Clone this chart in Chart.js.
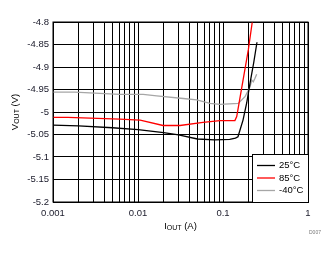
<!DOCTYPE html>
<html>
<head>
<meta charset="utf-8">
<script src="https://cdn.jsdelivr.net/npm/chart.js@4/dist/chart.umd.min.js"></script>
<style>
  html, body { margin: 0; padding: 0; background: #fff; }
  #wrap { width: 336px; height: 254px; }
</style>
</head>
<body>
<div id="wrap"><canvas id="chart" width="336" height="254"></canvas></div>
<script>
// series labels + colours
const seriesNames = ['25°C', '85°C', '-40°C'];
const seriesColors = ['#000000', '#ff0000', '#a6a6a6'];

// 25°C
const iout25 = [0.001, 0.002, 0.005, 0.01, 0.02, 0.03, 0.05, 0.08, 0.12, 0.14, 0.15, 0.172, 0.19, 0.208, 0.23, 0.251];
const vout25 = [-5.029, -5.031, -5.035, -5.039, -5.046, -5.051, -5.060, -5.062, -5.061, -5.058, -5.055, -5.018, -4.98, -4.936, -4.89, -4.845];

// 85°C
const iout85 = [0.001, 0.0015, 0.0061, 0.0106, 0.0197, 0.0312, 0.0582, 0.0922, 0.138, 0.145, 0.1985, 0.221, 0.235];
const vout85 = [-5.012, -5.012, -5.016, -5.018, -5.030, -5.030, -5.023, -5.019, -5.019, -5.010, -4.862, -4.80, -4.77];

// -40°C
const iout40 = [0.001, 0.0018, 0.0061, 0.0115, 0.0166, 0.0341, 0.049, 0.0704, 0.0922, 0.151, 0.1815, 0.208, 0.218, 0.227, 0.238, 0.249];
const vout40 = [-4.956, -4.956, -4.961, -4.961, -4.964, -4.970, -4.973, -4.981, -4.983, -4.981, -4.966, -4.944, -4.929, -4.933, -4.925, -4.916];

// axes
const xTickLabels = [0.001, 0.01, 0.1, 1];
const yMin = -5.2, yMax = -4.8, yStep = 0.05;

const FONT = '"Liberation Sans", Arial, sans-serif';

function pts(xs, ys) {
  return xs.map((x, i) => ({ x: x, y: ys[i] }));
}

const seriesData = [pts(iout25, vout25), pts(iout85, vout85), pts(iout40, vout40)];

// titles with subscripts, legend box, little code in the corner
const decorPlugin = {
  id: 'decor',
  afterDraw(chart) {
    const ctx = chart.ctx;
    const a = chart.chartArea;
    ctx.save();

    // legend
    const lw = 56, lh = 48;
    const lx = a.right - lw, ly = a.bottom - lh;
    ctx.fillStyle = '#fff';
    ctx.fillRect(lx, ly, lw, lh);
    ctx.strokeStyle = '#000';
    ctx.lineWidth = 1;
    ctx.strokeRect(lx + 0.5, ly + 0.5, lw, lh);
    ctx.font = '9.5px ' + FONT;
    ctx.textBaseline = 'middle';
    seriesNames.forEach((name, i) => {
      const yy = ly + 11.5 + i * 12.5;
      ctx.strokeStyle = seriesColors[i];
      ctx.lineWidth = 1.3;
      ctx.beginPath();
      ctx.moveTo(lx + 5, yy);
      ctx.lineTo(lx + 23, yy);
      ctx.stroke();
      ctx.fillStyle = '#000';
      ctx.fillText(name, lx + 27, yy);
    });

    // x title  I_OUT (A)
    const cx = (a.left + a.right) / 2;
    drawSubTitle(ctx, 'I', 'OUT', ' (A)', cx, 226);

    // y title  V_OUT (V)
    ctx.save();
    ctx.translate(15, (a.top + a.bottom) / 2);
    ctx.rotate(-Math.PI / 2);
    drawSubTitle(ctx, 'V', 'OUT', ' (V)', 0, 0);
    ctx.restore();

    ctx.fillStyle = '#777';
    ctx.font = '5px ' + FONT;
    ctx.textAlign = 'left';
    ctx.textBaseline = 'middle';
    ctx.fillText('D007', 309, 233);

    ctx.restore();
  }
};

function drawSubTitle(ctx, main, sub, rest, cx, cy) {
  const big = '9.5px ' + FONT, small = '7px ' + FONT;
  ctx.textBaseline = 'middle';
  ctx.textAlign = 'left';
  ctx.font = big; const w1 = ctx.measureText(main).width;
  const w3 = ctx.measureText(rest).width;
  ctx.font = small; const w2 = ctx.measureText(sub).width;
  let x = cx - (w1 + w2 + w3) / 2;
  ctx.fillStyle = '#000';
  ctx.font = big; ctx.fillText(main, x, cy); x += w1;
  ctx.font = small; ctx.fillText(sub, x, cy + 2.5); x += w2;
  ctx.font = big; ctx.fillText(rest, x, cy);
}

function isDecade(v) {
  const l = Math.log10(v);
  return Math.abs(l - Math.round(l)) < 1e-6;
}

new Chart(document.getElementById('chart'), {
  type: 'line',
  data: {
    datasets: seriesNames.map((name, i) => ({
      label: name,
      data: seriesData[i],
      borderColor: seriesColors[i],
      borderWidth: 1.3,
      pointRadius: 0,
      tension: 0,
      fill: false
    }))
  },
  options: {
    responsive: false,
    animation: false,
    events: [],
    layout: { padding: { left: 0, right: 28, top: 22, bottom: 0 } },
    plugins: { legend: { display: false }, tooltip: { enabled: false } },
    scales: {
      x: {
        type: 'logarithmic',
        min: 0.001,
        max: 1,
        afterFit(scale) { scale.height = 52; },
        afterBuildTicks(scale) {
          const t = [];
          for (let d = 0; d < xTickLabels.length - 1; d++) {
            for (let k = 1; k <= 9; k++) t.push({ value: xTickLabels[d] * k });
          }
          t.push({ value: xTickLabels[xTickLabels.length - 1] });
          scale.ticks = t;
        },
        grid: { color: '#000', lineWidth: 1, drawTicks: false },
        border: { color: '#000', width: 1 },
        ticks: {
          autoSkip: false,
          maxRotation: 0,
          padding: 6,
          color: '#1a1a2a',
          font: { family: FONT, size: 9.5 },
          callback(v) {
            if (!isDecade(v)) return '';
            return xTickLabels.find(t => Math.abs(t - v) < 1e-9).toString();
          }
        }
      },
      y: {
        type: 'linear',
        min: yMin,
        max: yMax,
        afterFit(scale) { scale.width = 53; },
        grid: { color: '#000', lineWidth: 1, drawTicks: false },
        border: { color: '#000', width: 1 },
        ticks: {
          stepSize: yStep,
          padding: 4,
          color: '#1a1a2a',
          font: { family: FONT, size: 9.5 },
          callback(v) { return Number(v.toFixed(2)).toString(); }
        }
      }
    }
  },
  plugins: [decorPlugin, {
    id: 'frame',
    afterDatasetsDraw(chart) {
      const a = chart.chartArea, ctx = chart.ctx;
      ctx.save();
      ctx.strokeStyle = '#000';
      ctx.lineWidth = 1;
      ctx.strokeRect(a.left, a.top, a.right - a.left, a.bottom - a.top);
      ctx.restore();
    }
  }]
});
</script>
</body>
</html>
